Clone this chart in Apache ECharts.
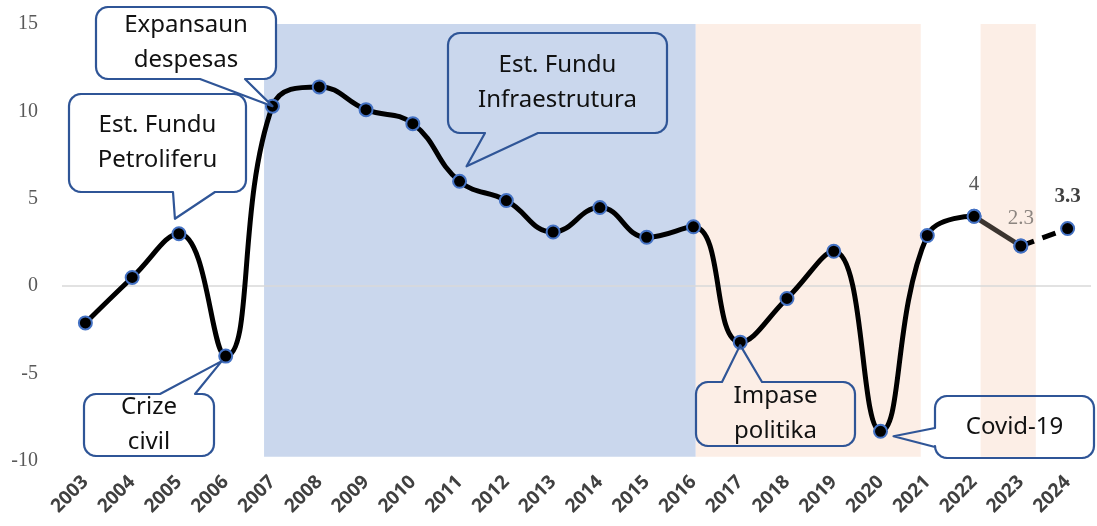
<!DOCTYPE html>
<html>
<head>
<meta charset="utf-8">
<script src="https://cdn.jsdelivr.net/npm/echarts@6/dist/echarts.min.js"></script>
<style>
  html, body { margin: 0; padding: 0; background: #fff; }
  #chart { width: 1097px; height: 526px; }
</style>
</head>
<body>
<div id="chart"></div>
<script>
// anos e crescimento (%)
const years = ['2003', '2004', '2005', '2006', '2007', '2008', '2009', '2010', '2011', '2012', '2013',
  '2014', '2015', '2016', '2017', '2018', '2019', '2020', '2021', '2022', '2023', '2024']
const growth = [-2.1, 0.5, 3.0, -4.0, 10.3, 11.4, 10.1, 9.3, 6.0, 4.9, 3.1,
  4.5, 2.8, 3.4, -3.2, -0.7, 2.0, -8.3, 2.9, 4.0, 2.3, 3.3]
const yTicks = [-10, -5, 0, 5, 10, 15]

// periodos sombreados (posicao no eixo, indice de categoria)
const bluePeriods = [[3.82, 13.05]]
const peachPeriods = [[13.05, 17.86], [19.14, 20.32]]
const bandRange = [-9.75, 15.15]

// indices: fim da serie solida, ponto estimado, projecao
const lastActual = 19
const estimateIdx = 20
const projIdx = 21

// anotacoes
const notes = [
  { idx: 4, lines: ['Expansaun', 'despesas'], box: [96, 7, 180, 72], side: 'bottom', tail: [200, 245], off: [0, 0], fill: '#ffffff' },
  { idx: 2, lines: ['Est. Fundu', 'Petroliferu'], box: [69, 94, 177, 98], side: 'bottom', tail: [173, 215], off: [-4, -15], fill: 'none' },
  { idx: 3, lines: ['Crize', 'civil'], box: [84, 394, 130, 62], side: 'top', tail: [160, 195], off: [-4, 5], fill: 'none' },
  { idx: 8, lines: ['Est. Fundu', 'Infraestrutura'], box: [448, 33, 219, 100], side: 'bottom', tail: [485, 538], off: [7, -15], fill: 'none' },
  { idx: 14, lines: ['Impase', 'politika'], box: [696, 382, 159, 64], side: 'top', tail: [722, 762], off: [0, 3], fill: 'none' },
  { idx: 17, lines: ['Covid-19'], box: [935, 396, 159, 62], side: 'left', tail: [428, 447], off: [13, 5], fill: 'none' }
]

const chart = echarts.init(document.getElementById('chart'))

const pick = (from, to) => growth.map((v, i) => (i >= from && i <= to ? v : null))

const dotStyle = { color: '#000', borderColor: '#4472C4', borderWidth: 2 }

const option = {
  animation: false,
  grid: { left: 62, right: 6, top: 24, bottom: 65 },
  xAxis: [
    {
      type: 'category',
      data: years,
      boundaryGap: true,
      axisLine: { show: false },
      axisTick: { show: false },
      axisLabel: {
        rotate: 45,
        margin: 18,
        color: '#404040',
        fontFamily: 'Noto Sans',
        fontWeight: 'bold',
        fontSize: 19
      }
    },
    { type: 'value', min: -0.5, max: 21.5, show: false }
  ],
  yAxis: {
    type: 'value',
    min: yTicks[0],
    max: yTicks[yTicks.length - 1],
    interval: 5,
    splitLine: { show: false },
    axisLine: { show: false },
    axisTick: { show: false },
    axisLabel: { color: '#595959', fontFamily: 'Liberation Serif', fontSize: 20, margin: 24 }
  },
  series: [
    {
      type: 'line',
      xAxisIndex: 1,
      data: [],
      silent: true,
      z: 1,
      markArea: {
        silent: true,
        data: [
          ...bluePeriods.map(p => [
            { xAxis: p[0], yAxis: bandRange[0], itemStyle: { color: '#CAD7ED' } },
            { xAxis: p[1], yAxis: bandRange[1] }
          ]),
          ...peachPeriods.map(p => [
            { xAxis: p[0], yAxis: bandRange[0], itemStyle: { color: '#FCEEE6' } },
            { xAxis: p[1], yAxis: bandRange[1] }
          ])
        ]
      }
    },
    {
      type: 'line',
      data: pick(0, lastActual),
      smooth: 0.45,
      z: 5,
      symbol: 'circle',
      symbolSize: 13,
      lineStyle: { color: '#000', width: 5 },
      itemStyle: dotStyle,
      label: {
        show: true,
        position: 'top',
        distance: 14,
        fontFamily: 'Liberation Serif',
        fontSize: 21,
        color: '#595959',
        formatter: p => (p.dataIndex === lastActual ? String(p.value) : '')
      },
      markLine: {
        silent: true,
        symbol: 'none',
        label: { show: false },
        lineStyle: { color: '#d9d9d9', width: 1.5, type: 'solid' },
        data: [{ yAxis: 0 }]
      }
    },
    {
      type: 'line',
      data: pick(lastActual, estimateIdx),
      z: 4,
      symbol: 'circle',
      symbolSize: 13,
      lineStyle: { color: '#3B342F', width: 5 },
      itemStyle: { color: '#3B342F', borderColor: '#4472C4', borderWidth: 2 },
      label: {
        show: true,
        position: 'top',
        distance: 10,
        fontFamily: 'Liberation Serif',
        fontSize: 21,
        color: '#8C8580',
        formatter: p => (p.dataIndex === estimateIdx ? String(p.value) : '')
      }
    },
    {
      type: 'line',
      data: pick(estimateIdx, projIdx),
      z: 4,
      symbol: 'circle',
      symbolSize: 13,
      lineStyle: { color: '#000', width: 5, type: [14, 9] },
      itemStyle: dotStyle,
      label: {
        show: true,
        position: 'top',
        distance: 14,
        fontFamily: 'Liberation Serif',
        fontWeight: 'bold',
        fontSize: 21,
        color: '#404040',
        formatter: p => (p.dataIndex === projIdx ? String(p.value) : '')
      }
    }
  ]
}

chart.setOption(option)

// balao com cauda apontando para o ponto (poligono com cantos arredondados)
function calloutPoints(b, side, t, tip) {
  const [x, y, w, h] = b
  const r = 12
  const pts = []
  const arc = (cx, cy, a0) => {
    for (let k = 0; k <= 6; k++) {
      const a = (a0 + (90 * k) / 6) * Math.PI / 180
      pts.push([cx + r * Math.cos(a), cy + r * Math.sin(a)])
    }
  }
  pts.push([x + r, y])
  if (side === 'top') pts.push([t[0], y], tip, [t[1], y])
  arc(x + w - r, y + r, -90)
  arc(x + w - r, y + h - r, 0)
  if (side === 'bottom') pts.push([t[1], y + h], tip, [t[0], y + h])
  arc(x + r, y + h - r, 90)
  if (side === 'left') pts.push([x, t[1]], tip, [x, t[0]])
  arc(x + r, y + r, 180)
  return pts
}

const graphics = []
notes.forEach(n => {
  const p = chart.convertToPixel({ xAxisIndex: 0, yAxisIndex: 0 }, [n.idx, growth[n.idx]])
  const tip = [p[0] + n.off[0], p[1] + n.off[1]]
  graphics.push({
    type: 'polygon',
    z: 10,
    shape: { points: calloutPoints(n.box, n.side, n.tail, tip) },
    style: { fill: n.fill, stroke: '#2F5597', lineWidth: 2.2, lineJoin: 'round' }
  })
  const cx = n.box[0] + n.box[2] / 2
  const cy = n.box[1] + n.box[3] / 2
  const lh = 35
  n.lines.forEach((t, i) => {
    graphics.push({
      type: 'text',
      z: 11,
      x: cx,
      y: cy + (i - (n.lines.length - 1) / 2) * lh,
      style: {
        text: t,
        align: 'center',
        verticalAlign: 'middle',
        fill: '#111',
        font: '24px "Noto Sans"'
      }
    })
  })
})
chart.setOption({ graphic: graphics })
</script>
</body>
</html>
